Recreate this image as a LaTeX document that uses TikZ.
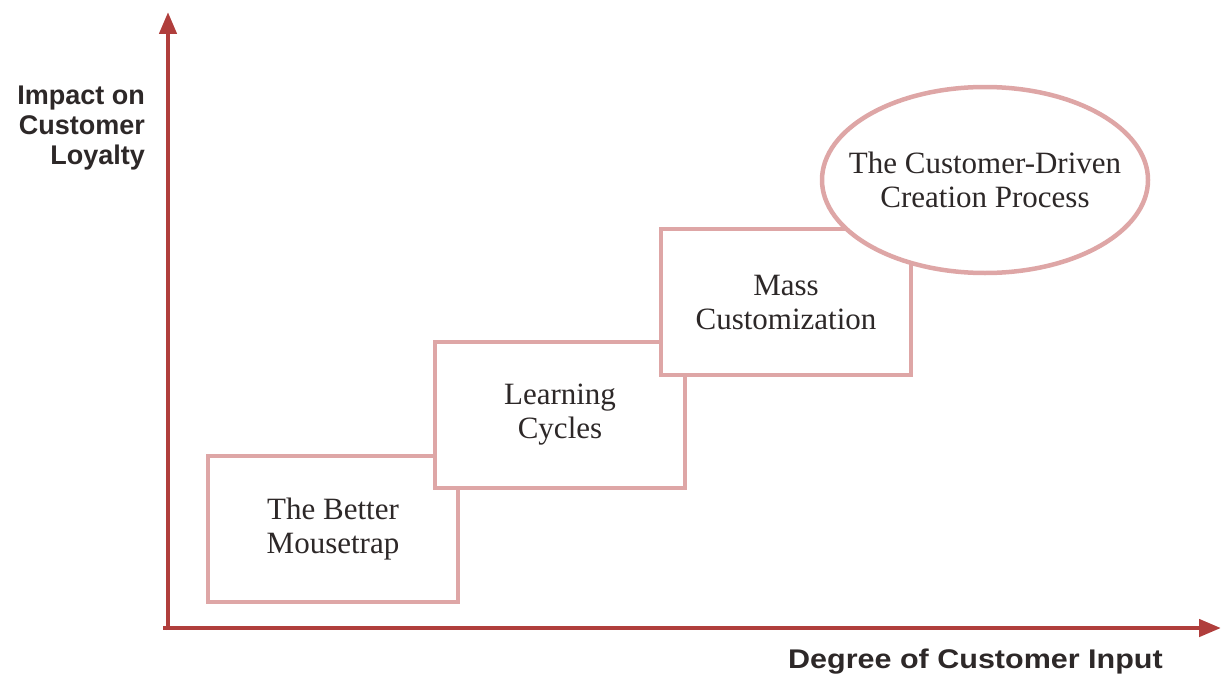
\documentclass[tikz,border=0pt]{standalone}
\usepackage{fontspec}
\usepackage{graphicx}
\setmainfont{Liberation Serif}
\newfontfamily\axisfont{Liberation Sans}
\usetikzlibrary{arrows.meta,shapes.geometric}
\definecolor{axisred}{RGB}{176,62,60}
\definecolor{boxpink}{RGB}{222,166,166}
\definecolor{txt}{RGB}{45,40,40}
\tikzset{
  axisline/.style={draw=axisred,line width=4.5pt,-{Triangle[length=22pt,width=17pt]}},
  stepbox/.style={draw=boxpink,line width=4.5pt,fill=white,rectangle,minimum width=250pt,minimum height=146pt,align=center,text=txt,font=\fontsize{31}{34}\selectfont},
  goalell/.style={draw=boxpink,line width=4.5pt,fill=white,ellipse,minimum width=326pt,minimum height=186pt,align=center,text=txt,font=\fontsize{31}{34}\selectfont,inner xsep=-30pt,inner ysep=0pt},
  axislabel/.style={text=txt,font=\axisfont\bfseries\fontsize{27}{30}\selectfont,inner sep=0pt}
}
\begin{document}
\begin{tikzpicture}[x=1pt,y=-1pt]
\useasboundingbox (0,0) rectangle (1223,677);
\coordinate (origin) at (163,628);
\coordinate (ytip) at (168,12);
\coordinate (xtip) at (1221,628);
\draw[axisline] (168,630) -- (ytip);
\draw[axisline] (origin) -- (xtip);
\node[stepbox] (b1) at (333,529) {The Better\\Mousetrap};
\node[stepbox] (b2) at (560,415) {Learning\\Cycles};
\node[stepbox] (b3) at (786,302) {Mass\\Customization};
\node[goalell] (e) at (985,180) {The Customer-Driven\\Creation Process};
\node[axislabel,align=right,anchor=north east] (ylab) at (145,86) {Impact on\\Customer\\Loyalty};
\node[axislabel,anchor=east] (xlab) at (1163,662) {\scalebox{1.13}[1]{Degree of Customer Input}};
\end{tikzpicture}
\end{document}
